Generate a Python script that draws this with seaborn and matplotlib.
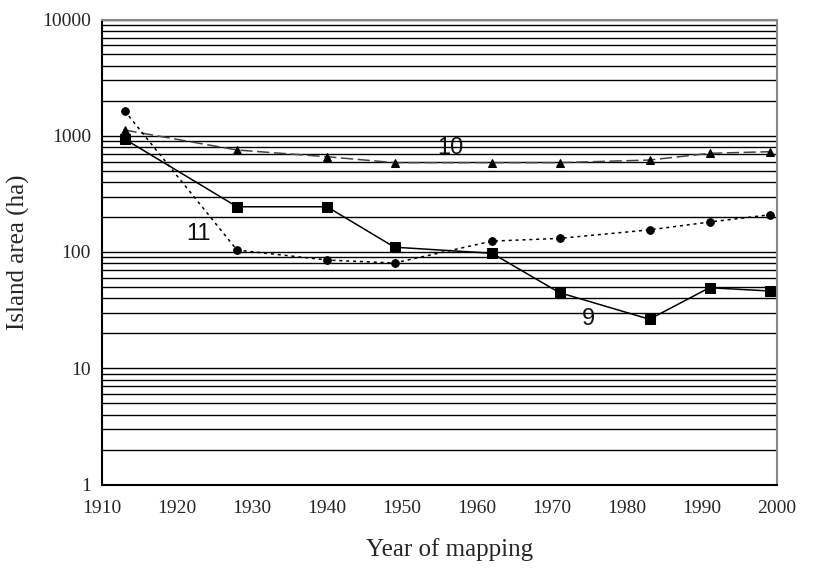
import matplotlib
matplotlib.use("Agg")
import matplotlib.pyplot as plt
import seaborn as sns
import pandas as pd
from matplotlib.ticker import FixedLocator, LogLocator, NullFormatter

years = [1913, 1928, 1940, 1949, 1962, 1971, 1983, 1991, 1999]
island_9 = [938, 245, 245, 110, 97.5, 44.7, 26.4, 49.3, 46.2]
island_10 = [1120, 754, 660, 587, 587, 587, 618, 706, 729]
island_11 = [1640, 104, 85.3, 80.4, 124, 131, 155, 181, 209]

x_ticks = [1910, 1920, 1930, 1940, 1950, 1960, 1970, 1980, 1990, 2000]
y_ticks = [1, 10, 100, 1000, 10000]
y_tick_labels = ["1", "10", "100", "1000", "10000"]

series_labels = ["9", "10", "11"]
label_pos = [(1974.8, 26.5), (1956.4, 777), (1922.8, 144)]

sns.set_style("white")
plt.rcParams["font.family"] = ["Liberation Serif", "DejaVu Serif"]

fig = plt.figure(figsize=(8.25, 5.73), dpi=100)
ax = fig.add_axes([102 / 825, 1 - 484.5 / 573, 675 / 825, 465 / 573])

df9 = pd.DataFrame({"year": years, "area": island_9})
df10 = pd.DataFrame({"year": years, "area": island_10})
df11 = pd.DataFrame({"year": years, "area": island_11})

ax.set_yscale("log")
ax.set_xlim(1910, 2000)
ax.set_ylim(1, 10000)

ax.yaxis.set_major_locator(FixedLocator(y_ticks))
ax.yaxis.set_minor_locator(LogLocator(base=10, subs=range(2, 10)))
ax.yaxis.set_minor_formatter(NullFormatter())
ax.grid(True, which="major", axis="y", color="black", lw=1.0)
ax.grid(True, which="minor", axis="y", color="black", lw=1.0)
ax.grid(False, axis="x")
ax.set_axisbelow(True)

sns.lineplot(data=df9, x="year", y="area", ax=ax, color="black", lw=1.1,
             marker="s", markersize=6.5, markeredgecolor="black", linestyle="-")
sns.lineplot(data=df10, x="year", y="area", ax=ax, color="#444444", lw=1.1,
             marker="^", markersize=6, markeredgecolor="black",
             markerfacecolor="black", linestyle=(0, (8, 3)))
sns.lineplot(data=df11, x="year", y="area", ax=ax, color="black", lw=1.1,
             marker="o", markersize=5.5, markeredgecolor="black",
             linestyle=(0, (2, 2.5)))

for lab, (xx, yy) in zip(series_labels, label_pos):
    ax.text(xx, yy, lab, ha="center", va="center", fontsize=17,
            family=["Liberation Sans", "DejaVu Sans"], color="#111111")

ax.set_xticks(x_ticks)
ax.set_xticklabels([str(t) for t in x_ticks])
ax.set_yticklabels(y_tick_labels)
ax.tick_params(axis="both", which="major", labelsize=14, length=4,
               direction="out", color="black", width=1)
ax.tick_params(axis="y", which="minor", length=0)
ax.tick_params(axis="x", pad=7)
ax.tick_params(axis="y", pad=4)

for side in ["left", "bottom"]:
    ax.spines[side].set_color("black")
    ax.spines[side].set_linewidth(1.5)
for side in ["top", "right"]:
    ax.spines[side].set_visible(True)
    ax.spines[side].set_color("#888888")
    ax.spines[side].set_linewidth(1.5)

ax.set_xlabel("Year of mapping", fontsize=18, labelpad=14)
ax.xaxis.set_label_coords(0.515, -0.115)
ax.set_ylabel("Island area (ha)", fontsize=18, labelpad=9)

fig.savefig("out.png", dpi=100)
